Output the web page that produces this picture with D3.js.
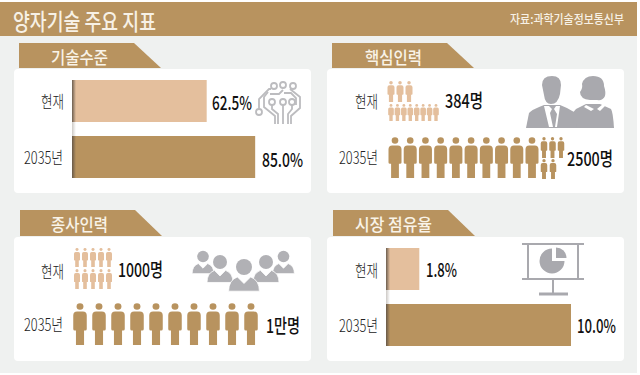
<!DOCTYPE html>
<html><head><meta charset="utf-8">
<script src="https://cdn.jsdelivr.net/npm/d3@7"></script>
<style>html,body{margin:0;padding:0;background:#fff}svg{display:block}text{font-family:"Noto Sans CJK KR","Noto Sans",sans-serif}</style>
</head><body><svg id="c" width="640" height="375"></svg>
<script>
const title = "양자기술 주요 지표";
const source = "자료:과학기술정보통신부";
const categories = ["현재", "2035년"];
const techLevel = [62.5, 85.0];
const techLabels = ["62.5%", "85.0%"];
const marketShare = [1.8, 10.0];
const marketLabels = ["1.8%", "10.0%"];
const coreLabels = ["384명", "2500명"];
const workLabels = ["1000명", "1만명"];
const coreNowRows = [3, 8];
const core2035Main = [10];
const core2035Extra = [3, 2];
const workNowRows = [5, 5];
const work2035Rows = [10];

const DARK = "#b8935f", LIGHT = "#e4bf9d", GREY = "#a9a9ae";
const svg = d3.select("#c");
const defs = svg.append("defs");
const g = defs.append("linearGradient").attr("id", "shade");
g.append("stop").attr("offset", 0).attr("stop-color", "#5f5347").attr("stop-opacity", .9);
g.append("stop").attr("offset", 1).attr("stop-color", "#5f5347").attr("stop-opacity", 0);

svg.append("rect").attr("x", 0).attr("y", 2).attr("width", 637).attr("height", 371).attr("fill", "#eff1f0");
svg.append("rect").attr("x", 0).attr("y", 2).attr("width", 637).attr("height", 34).attr("fill", DARK);

function txt(s, x0, x1, cy, size, weight, fill) {
  svg.append("text").attr("x", x0).attr("y", cy).attr("dominant-baseline", "central")
    .attr("font-size", size).attr("font-weight", weight).attr("fill", fill)
    .attr("textLength", x1 - x0).attr("lengthAdjust", "spacingAndGlyphs").text(s);
}
txt(title, 13, 156, 20, 23, 500, "#f7f1e6");
txt(source, 510, 624, 18, 12, 500, "#f7f1e6");

const panels = [
  {x: 14, y: 69, tabY: 43, tabH: 25, tabX: 19, name: "기술수준", tx0: 51, tx1: 108},
  {x: 327, y: 69, tabY: 43, tabH: 25, tabX: 332, name: "핵심인력", tx0: 365, tx1: 422},
  {x: 14, y: 237, tabY: 210, tabH: 26, tabX: 20, name: "종사인력", tx0: 51, tx1: 108},
  {x: 327, y: 237, tabY: 210, tabH: 26, tabX: 333, name: "시장 점유율", tx0: 355, tx1: 432}
];
panels.forEach(p => {
  svg.append("rect").attr("x", p.x).attr("y", p.y).attr("width", 297).attr("height", 124).attr("rx", 4).attr("fill", "#fff");
  svg.append("path").attr("fill", DARK).attr("d",
    `M${p.tabX},${p.tabY}H${p.tabX + 115}L${p.tabX + 142},${p.tabY + p.tabH}H${p.tabX}Z`);
  txt(p.name, p.tx0, p.tx1, p.tabY + 13, 17, 500, "#f9f3e8");
});

const colour = [LIGHT, DARK];
function bars(values, labels, x0, scaleK, top, valueBoxes) {
  const x = d3.scaleLinear().domain([0, d3.max(values)]).range([x0, x0 + d3.max(values) * scaleK]);
  const y = d3.scaleBand().domain(categories).range([top, top + 98]).paddingInner(.25).paddingOuter(0);
  svg.append("rect").attr("x", x0).attr("y", top).attr("width", 4).attr("height", 98).attr("fill", "url(#shade)").attr("opacity", .35);
  svg.selectAll(null).data(values).enter().append("rect")
    .attr("x", x0).attr("y", (d, i) => y(categories[i])).attr("height", y.bandwidth())
    .attr("width", d => x(d) - x0).attr("fill", (d, i) => colour[i]);
  svg.selectAll(null).data(values).enter().append("rect")
    .attr("x", x0).attr("y", (d, i) => y(categories[i])).attr("height", y.bandwidth())
    .attr("width", 4).attr("fill", "url(#shade)");
  labels.forEach((s, i) => txt(s, valueBoxes[i][0], valueBoxes[i][1], valueBoxes[i][2], 19, 500, "#111"));
}
bars(techLevel, techLabels, 72, 2.155, 80, [[212, 252, 101], [262, 303, 158]]);
bars(marketShare, marketLabels, 386, 18.5, 248, [[426, 457, 268], [577, 616, 324]]);
txt(coreLabels[0], 445, 483, 99, 19, 500, "#111");
txt(coreLabels[1], 567, 613, 157, 19, 500, "#111");
txt(workLabels[0], 118, 163, 268, 19, 500, "#111");
txt(workLabels[1], 266, 300, 324, 19, 500, "#111");

[[41, 64, 100], [24, 63, 156], [355, 378, 100], [339, 378, 156], [41, 64, 270], [24, 63, 323], [355, 378, 269], [339, 378, 324]]
  .forEach((b, i) => txt(categories[i % 2], b[0], b[1], b[2], 17, 300, "#222"));

// person glyph in a 13 x 42 design box, origin at top-centre
const personPath = "M-6.5,12.5 Q-6.5,8.6 -2.8,8.6 H2.8 Q6.5,8.6 6.5,12.5 V26 Q6.5,27.5 5,27.5 H3.9 V42 H-3.9 V27.5 H-5 Q-6.5,27.5 -6.5,26 Z";
function people(n, x0, x1, top, h, w, fill) {
  const x = d3.scaleLinear().domain([0, Math.max(n - 1, 1)]).range([x0, x1]);
  const sel = svg.selectAll(null).data(d3.range(n)).enter().append("g")
    .attr("transform", d => `translate(${x(d)},${top}) scale(${w / 13},${h / 42})`).attr("fill", fill);
  sel.append("path").attr("d", personPath);
  sel.append("ellipse").attr("cx", 0).attr("cy", 3.5).attr("rx", 3.3).attr("ry", 3.3);
}
people(coreNowRows[0], 391, 409, 81, 21, 7, LIGHT);
people(coreNowRows[1], 391, 436, 104, 17, 5.6, LIGHT);
people(core2035Main[0], 395, 532, 137, 41, 13, DARK);
people(core2035Extra[0], 544, 561, 137, 21, 6.5, DARK);
people(core2035Extra[1], 544, 553, 159, 20, 6.5, DARK);
people(workNowRows[0], 77, 109, 248, 19, 6, LIGHT);
people(workNowRows[1], 77, 109, 269, 20, 6, LIGHT);
people(work2035Rows[0], 80, 251, 303, 42, 13.5, DARK);

// circuit icon
const ic = svg.append("g").attr("fill", "none").attr("stroke", "#bcbcbf").attr("stroke-width", 1.8);
[[274, 86], [283, 85], [293, 86], [259, 112], [272, 102], [283, 102], [292, 102]].forEach(c =>
  ic.append("circle").attr("cx", c[0]).attr("cy", c[1]).attr("r", 3));
[
  "M259,109V99L269,89H271",
  "M290,89L300,97V108L291,116V124",
  "M268,92L264,97V107L275,116V124",
  "M270,94H279L283,90",
  "M283,105V124",
  "M272,105V109L278,114V124",
  "M292,105V109L288,114V124",
  "M284,93H291L296,98V105"
].forEach(d => ic.append("path").attr("d", d));

// two silhouettes
const man = svg.append("g").attr("fill", GREY);
man.append("path").attr("d", "M593,76 Q604,76 604,86 Q606,92 605,96 Q603,101 597,100 H590 Q580,99 580,92 Q583,88 582,84 Q584,76 593,76 Z");
man.append("path").attr("d", "M576,109 L586,104 H600 L611,109 Q613,112 614,128 H560 Z");
man.append("path").attr("d", "M542,85 Q542,76 552,76 Q561,76 561,85 L560,94 Q558,104 551,104 Q545,104 544,95 Z");
man.append("path").attr("d", "M526,128 L529,113 Q531,110 544,105 H560 Q568,108 574,112 Q576,118 577,128 Z");
const shirts = svg.append("g").attr("fill", "#fff");
shirts.append("path").attr("d", "M544,106 L549,106 L552,109 L550,113 L553,127 L549,127 Z");
shirts.append("path").attr("d", "M554,109 L556,106 L560,106 L557,127 L555,127 L557,114 Z");
shirts.append("path").attr("d", "M586,105 L594,109 L591,111 L584,107 Z");
shirts.append("path").attr("d", "M597,109 L603,104 L605,106 L600,111 Z");

// group of five
[[203, 256.5, 5.8, 0.78], [283.5, 256.5, 5.8, 0.78], [220, 262, 7, 0.93], [266, 262, 7, 0.93], [244, 267, 8, 1.1]].forEach(d => {
  const grp = svg.append("g").attr("transform", `translate(${d[0]},${d[1]})`).attr("fill", "#b1b1b5");
  grp.append("path").attr("stroke", "#fff").attr("stroke-width", .8).attr("d", `M${-14 * d[3]},${22 * d[3]} Q${-14 * d[3]},${12 * d[3]} ${-6 * d[3]},${9 * d[3]} L0,${15 * d[3]} L${6 * d[3]},${9 * d[3]} Q${14 * d[3]},${12 * d[3]} ${14 * d[3]},${22 * d[3]} Z`);
  grp.append("circle").attr("cx", 0).attr("cy", 0).attr("r", d[2]);
});

// presentation board
const bd = svg.append("g").attr("stroke", "#a9a9ae").attr("stroke-width", 2).attr("fill", "none");
bd.append("path").attr("d", "M522,244H584M528,244V279M578,244V279M522,279H584M553,279V294");
bd.append("path").attr("d", "M539,294H568").attr("stroke-width", 3);
const arc = d3.arc().innerRadius(0);
svg.append("path").attr("transform", "translate(552,261)").attr("fill", GREY)
  .attr("d", arc({outerRadius: 12.5, startAngle: Math.PI / 2, endAngle: Math.PI * 2}));
svg.append("path").attr("transform", "translate(556,258)").attr("fill", GREY)
  .attr("d", arc({outerRadius: 10.5, startAngle: 0, endAngle: Math.PI / 2}));
</script></body></html>
